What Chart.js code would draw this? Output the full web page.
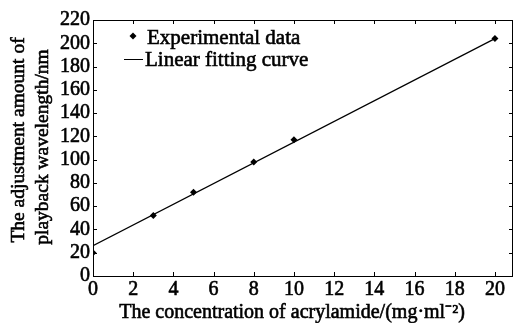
<!DOCTYPE html>
<html><head><meta charset="utf-8">
<script src="https://cdn.jsdelivr.net/npm/chart.js@4/dist/chart.umd.min.js"></script>
<style>html,body{margin:0;padding:0;background:#fff}#wrap{width:517px;height:323px}</style>
</head><body><div id="wrap"><canvas id="c" width="517" height="323"></canvas></div>
<script>
const expX = [0, 3, 5, 8, 10, 20];
const expY = [20, 52, 72, 98, 117, 204];
const fitX = [0, 20];
const fitY = [26, 204];
const xTicks = [0, 2, 4, 6, 8, 10, 12, 14, 16, 18, 20];
const yTicks = [0, 20, 40, 60, 80, 100, 120, 140, 160, 180, 200, 220];
const seriesNames = ['Experimental data', 'Linear fitting curve'];
const xTitle = 'The concentration of acrylamide/(mg\u00B7ml\u207B\u00B2)';
const yTitle = ['The adjustment amount of', 'playback wavelength/nm'];

const FONT = '"Liberation Serif", "Times New Roman", serif';
const SW = 0.6;

function heavyText(ctx, t, x, y) {
  ctx.lineWidth = SW;
  ctx.strokeText(t, x, y);
  ctx.fillText(t, x, y);
}

const frame = {
  id: 'frame',
  afterDraw(chart) {
    const {ctx, chartArea: a, scales: {x, y}} = chart;
    ctx.save();
    ctx.strokeStyle = '#000';
    ctx.lineWidth = 1;
    ctx.strokeRect(Math.round(a.left) + 0.5, Math.round(a.top) + 0.5, Math.round(a.right - a.left) - 1, Math.round(a.bottom - a.top));
    ctx.beginPath();
    const L = 4;
    xTicks.forEach(v => {
      const px = Math.round(x.getPixelForValue(v)) + 0.5;
      ctx.moveTo(px, a.bottom); ctx.lineTo(px, a.bottom - L);
      ctx.moveTo(px, a.top); ctx.lineTo(px, a.top + L);
    });
    yTicks.forEach(v => {
      const py = Math.round(y.getPixelForValue(v)) + 0.5;
      ctx.moveTo(a.left, py); ctx.lineTo(a.left + L, py);
      ctx.moveTo(a.right, py); ctx.lineTo(a.right - L, py);
    });
    ctx.stroke();
    ctx.fillStyle = '#000';
    // legend
    ctx.font = '21px ' + FONT;
    ctx.textBaseline = 'alphabetic';
    ctx.textAlign = 'left';
    const lx = 133, my = 36;
    ctx.beginPath();
    ctx.moveTo(lx, my - 3.5); ctx.lineTo(lx + 3.5, my); ctx.lineTo(lx, my + 3.5); ctx.lineTo(lx - 3.5, my); ctx.closePath();
    ctx.fill();
    heavyText(ctx, seriesNames[0], 147, 44);
    ctx.lineWidth = 1;
    ctx.beginPath();
    ctx.moveTo(124, 59.5); ctx.lineTo(143, 59.5); ctx.stroke();
    heavyText(ctx, seriesNames[1], 145, 66);
    // x title
    ctx.font = '20px ' + FONT;
    ctx.textAlign = 'center';
    heavyText(ctx, xTitle, 292, 318);
    // y title
    ctx.save();
    ctx.rotate(-Math.PI / 2);
    ctx.font = '19.5px ' + FONT;
    ctx.textBaseline = 'middle';
    heavyText(ctx, yTitle[0], -140, 19);
    heavyText(ctx, yTitle[1], -147, 43);
    ctx.restore();
    ctx.restore();
  }
};

new Chart(document.getElementById('c'), {
  type: 'scatter',
  data: {
    datasets: [
      {
        label: seriesNames[0],
        data: expX.map((v, i) => ({x: v, y: expY[i]})),
        pointStyle: 'rectRot', pointRadius: 3.5,
        backgroundColor: '#000', borderColor: '#000', borderWidth: 0,
        showLine: false
      },
      {
        label: seriesNames[1],
        data: fitX.map((v, i) => ({x: v, y: fitY[i]})),
        showLine: true, pointRadius: 0, borderColor: '#000', borderWidth: 1.2,
        backgroundColor: '#000'
      }
    ]
  },
  plugins: [frame],
  options: {
    responsive: false,
    animation: false,
    devicePixelRatio: 1,
    layout: {padding: {left: 0, right: 1, top: 20, bottom: 0}},
    plugins: {legend: {display: false}, tooltip: {enabled: false}},
    scales: {
      x: {
        type: 'linear', min: 0, max: 20.9,
        afterBuildTicks: s => { s.ticks = xTicks.map(v => ({value: v})); },
        afterFit: s => { s.height = 47; },
        grid: {display: false, drawTicks: false},
        border: {display: false},
        ticks: {color: '#000', textStrokeColor: '#000', textStrokeWidth: SW, font: {family: FONT, size: 20}, padding: 2, maxRotation: 0, autoSkip: false},
        title: {display: false}
      },
      y: {
        type: 'linear', min: 0, max: 220,
        afterBuildTicks: s => { s.ticks = yTicks.map(v => ({value: v})); },
        afterFit: s => { s.width = 93; },
        grid: {display: false, drawTicks: false},
        border: {display: false},
        ticks: {color: '#000', textStrokeColor: '#000', textStrokeWidth: SW, font: {family: FONT, size: 20}, padding: 3, autoSkip: false},
        title: {display: false}
      }
    }
  }
});
</script>
</body></html>
